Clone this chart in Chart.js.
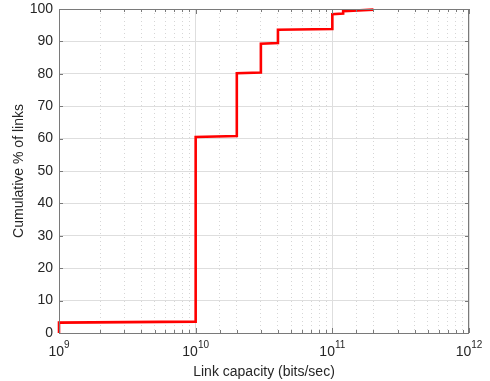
<!DOCTYPE html>
<html>
<head>
<meta charset="utf-8">
<script src="https://cdn.jsdelivr.net/npm/chart.js@4.4.0/dist/chart.umd.min.js"></script>
<style>
  html, body { margin: 0; padding: 0; background: #fff; }
  #wrap { width: 490px; height: 381px; }
</style>
</head>
<body>
<div id="wrap"><canvas id="cdfChart" width="490" height="381"></canvas></div>
<script>
// link capacity (bits/sec) and cumulative %
const capacity = [1e9, 1e9, 1e10, 1e10, 2e10, 2e10, 3e10, 3e10, 4e10, 4e10, 1e11, 1e11, 1.2e11, 1.2e11, 2e11];
const cumPct   = [0, 3.2, 3.5, 60.5, 60.8, 80.2, 80.4, 89.3, 89.5, 93.6, 93.8, 98.4, 98.6, 99.3, 99.8];

const xDecades = [9, 10, 11, 12];   // tick labels 10^n
const yTicks = [0, 10, 20, 30, 40, 50, 60, 70, 80, 90, 100];

const textColor = '#262626';
const fontFam = '"Liberation Sans", Arial, Helvetica, sans-serif';

function isDecade(v) {
  const l = Math.log10(v);
  return Math.abs(l - Math.round(l)) < 1e-6;
}

// frame, inward tick marks and 10^n labels (matlab look)
const matlabAxes = {
  id: 'matlabAxes',
  afterDraw(chart) {
    const c = chart.ctx;
    const a = chart.chartArea;
    const xs = chart.scales.x, ys = chart.scales.y;
    c.save();
    c.strokeStyle = '#7a7a7a';
    c.lineWidth = 1;
    c.strokeRect(a.left + 0.5, a.top + 0.5, a.right - a.left - 1, a.bottom - a.top);

    c.beginPath();
    xs.ticks.forEach(t => {
      const px = Math.round(xs.getPixelForValue(t.value)) + 0.5;
      const len = isDecade(t.value) ? 5 : 3;
      c.moveTo(px, a.bottom); c.lineTo(px, a.bottom - len);
      c.moveTo(px, a.top); c.lineTo(px, a.top + len);
    });
    yTicks.forEach(v => {
      const py = Math.round(ys.getPixelForValue(v)) + 0.5;
      c.moveTo(a.left, py); c.lineTo(a.left + 4, py);
      c.moveTo(a.right, py); c.lineTo(a.right - 4, py);
    });
    c.stroke();

    c.fillStyle = textColor;
    c.textBaseline = 'alphabetic';
    xDecades.forEach(n => {
      const px = xs.getPixelForValue(Math.pow(10, n));
      c.font = '14px ' + fontFam;
      const bw = c.measureText('10').width;
      c.font = '10px ' + fontFam;
      const ew = c.measureText(String(n)).width;
      const x0 = px - (bw + ew) / 2;
      c.font = '14px ' + fontFam;
      c.textAlign = 'left';
      c.fillText('10', x0, a.bottom + 23);
      c.font = '10px ' + fontFam;
      c.fillText(String(n), x0 + bw, a.bottom + 15);
    });
    c.restore();
  }
};

const ctx = document.getElementById('cdfChart').getContext('2d');
const myChart = new Chart(ctx, {
  type: 'line',
  data: {
    datasets: [{
      data: capacity.map((v, i) => ({ x: v, y: cumPct[i] })),
      borderColor: '#ff0000',
      borderWidth: 2.6,
      pointRadius: 0,
      fill: false,
      tension: 0,
      clip: 3
    }]
  },
  options: {
    responsive: false,
    animation: false,
    layout: { padding: { left: 0, right: 21, top: 9, bottom: 0 } },
    plugins: { legend: { display: false }, tooltip: { enabled: false } },
    scales: {
      x: {
        type: 'logarithmic',
        min: 1e9,
        max: 1e12,
        afterFit(s) { s.height = 48; s.paddingLeft = 0; s.paddingRight = 0; },
        ticks: {
          autoSkip: false,
          callback: () => '',
          font: { size: 1 }
        },
        grid: {
          drawTicks: false,
          color: c => (c.tick && isDecade(c.tick.value)) ? '#dedede' : '#d6d6d6',
          lineWidth: 1
        },
        border: {
          display: false,
          dash: c => (c.tick && isDecade(c.tick.value)) ? [] : [1, 3]
        },
        title: {
          display: true,
          text: 'Link capacity (bits/sec)',
          color: textColor,
          font: { family: fontFam, size: 14 },
          padding: { top: 20, bottom: 0 }
        }
      },
      y: {
        min: 0,
        max: 100,
        afterFit(s) { s.width = 59; s.paddingTop = 0; s.paddingBottom = 0; },
        ticks: {
          stepSize: 10,
          color: textColor,
          padding: 6,
          font: { family: fontFam, size: 14 }
        },
        grid: { drawTicks: false, color: '#dedede', lineWidth: 1 },
        border: { display: false },
        title: {
          display: true,
          text: 'Cumulative % of links',
          color: textColor,
          font: { family: fontFam, size: 14 },
          padding: { top: 11, bottom: 0 }
        }
      }
    }
  },
  plugins: [matlabAxes]
});
</script>
</body>
</html>
